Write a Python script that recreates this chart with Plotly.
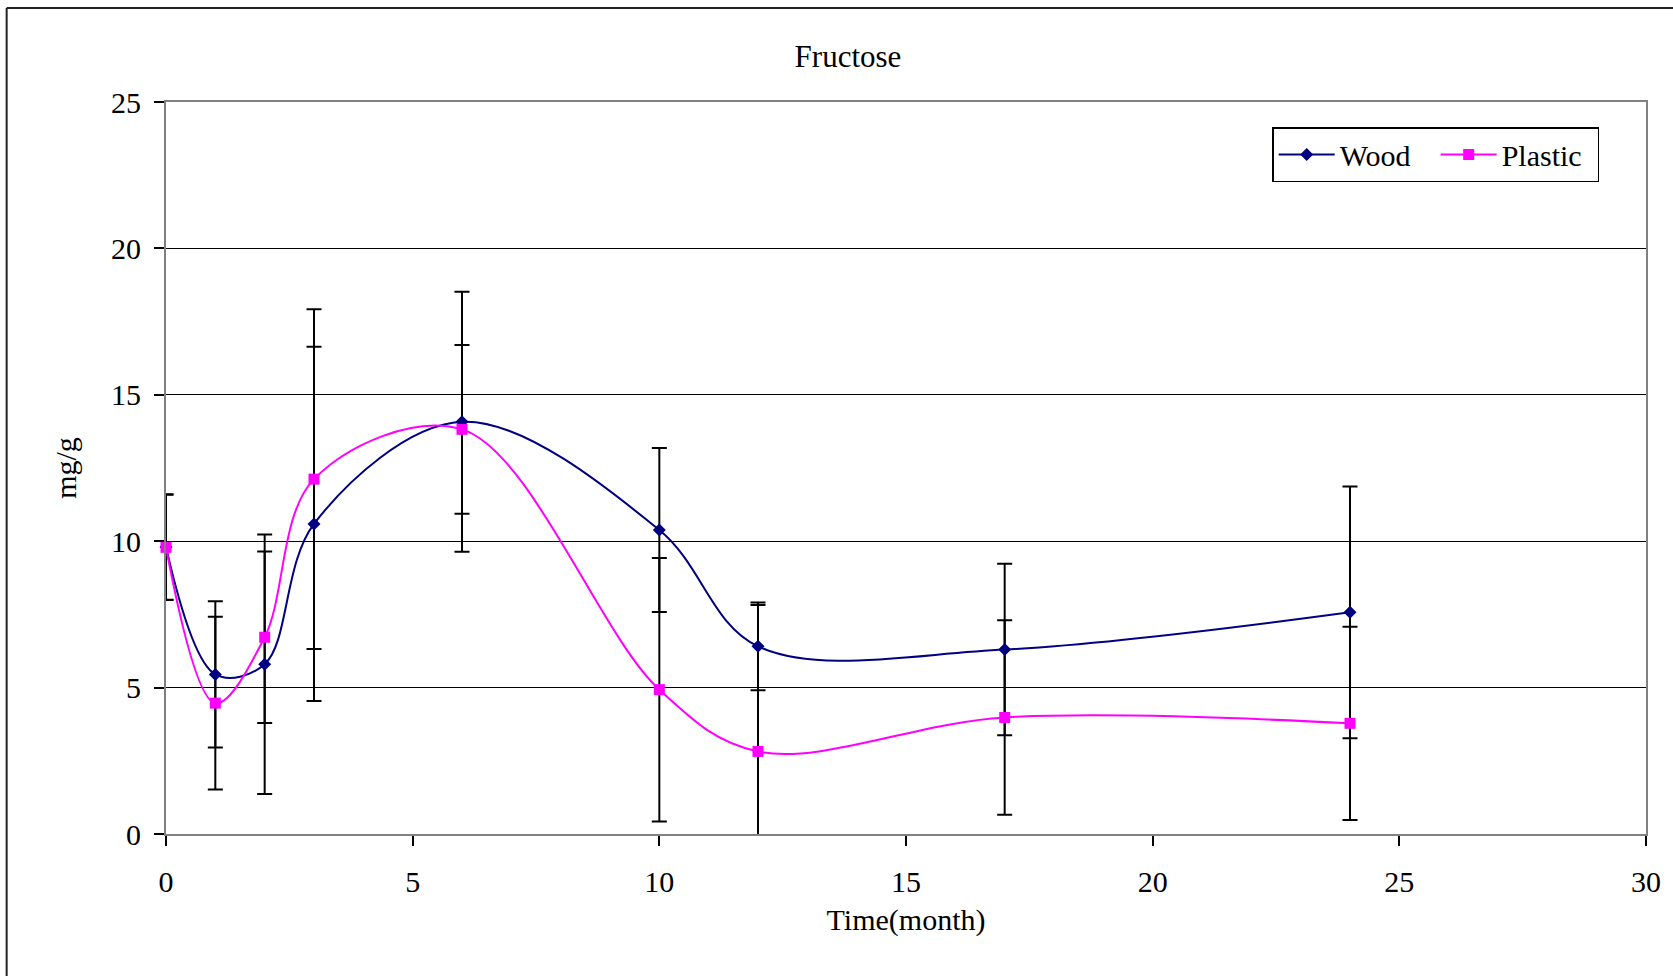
import plotly.graph_objects as go

months = [0, 1, 2, 3, 6, 10, 12, 17, 24]
wood = [9.8, 5.45, 5.8, 10.59, 14.08, 10.38, 6.41, 6.3, 7.57]
wood_err = [1.8, 2.5, 4.43, 6.05, 4.44, 2.8, 1.5, 2.93, 4.3]
plastic = [9.79, 4.47, 6.72, 12.12, 13.82, 4.93, 2.82, 3.98, 3.78]
plastic_err = [1.8, 2.95, 2.93, 5.8, 2.88, 4.5, 5.0, 3.32, 3.3]
x_ticks = [0, 5, 10, 15, 20, 25, 30]
y_ticks = [0, 5, 10, 15, 20, 25]

W, H = 1673, 976
L, R, T, B = 166, 21, 102, 142
PW, PH = W - L - R, H - T - B
FONT = "Liberation Serif, Times New Roman, serif"


def px_x(p):
    return (p - L) / PW


def px_y(p):
    return (H - B - p) / PH


fig = go.Figure()
# Plastic error bars (clipped to the plot area, as in the original)
fig.add_trace(go.Scatter(
    x=months, y=plastic, name="Plastic", mode="markers", showlegend=False,
    hoverinfo="skip", cliponaxis=True,
    marker=dict(size=1, color="rgba(0,0,0,0)"),
    error_y=dict(type="data", array=plastic_err, visible=True,
                 color="black", thickness=2, width=7.5),
))
fig.add_trace(go.Scatter(
    x=months, y=wood, name="Wood", mode="lines+markers", cliponaxis=False,
    line=dict(color="#000080", width=2, shape="spline", smoothing=1.0),
    marker=dict(symbol="diamond", size=10, color="#000080"),
    error_y=dict(type="data", array=wood_err, visible=True,
                 color="black", thickness=2, width=7.5),
))
fig.add_trace(go.Scatter(
    x=months, y=plastic, name="Plastic", mode="lines+markers", cliponaxis=False,
    line=dict(color="#FF00FF", width=2, shape="spline", smoothing=1.0),
    marker=dict(symbol="square", size=11, color="#FF00FF"),
))

# outer chart border (left and top visible)
fig.add_shape(type="line", xref="paper", yref="paper",
              x0=px_x(6), x1=px_x(6), y0=px_y(8), y1=px_y(1000),
              line=dict(color="#222222", width=2))
fig.add_shape(type="line", xref="paper", yref="paper",
              x0=px_x(6), x1=px_x(1700), y0=px_y(8), y1=px_y(8),
              line=dict(color="#222222", width=2))

fig.update_layout(
    width=W, height=H,
    margin=dict(l=L, r=R, t=T, b=B, pad=0),
    paper_bgcolor="white", plot_bgcolor="white",
    font=dict(family=FONT, size=30, color="black"),
    title=dict(text="Fructose", x=848 / W, xref="container", xanchor="center",
               y=1 - 56 / H, yref="container", yanchor="middle",
               font=dict(family=FONT, size=31, color="black")),
    showlegend=True,
    legend=dict(orientation="h", x=px_x(1605), xanchor="right",
                y=px_y(127), yanchor="top",
                itemwidth=56, entrywidth=91, entrywidthmode="pixels",
                bordercolor="black", borderwidth=1.5, bgcolor="white",
                font=dict(family=FONT, size=30, color="black")),
    xaxis=dict(range=[0, 30], tickvals=x_ticks, ticktext=[str(v) for v in x_ticks],
               showgrid=False, zeroline=False,
               showline=True, linecolor="#808080", linewidth=2, mirror=True,
               ticks="outside", ticklen=10, tickcolor="black", tickwidth=1.5,
               ticklabelstandoff=10,
               title=dict(text="Time(month)", standoff=12,
                          font=dict(family=FONT, size=30, color="black"))),
    yaxis=dict(range=[0, 25], tickvals=y_ticks, ticktext=[str(v) for v in y_ticks],
               showgrid=True, gridcolor="black", gridwidth=1,
               zeroline=True, zerolinecolor="black", zerolinewidth=1.5,
               showline=True, linecolor="#808080", linewidth=2, mirror=True,
               ticks="outside", ticklen=10, tickcolor="black", tickwidth=1.5,
               ticklabelstandoff=7,
               title=dict(text="mg/g", standoff=26,
                          font=dict(family=FONT, size=30, color="black"))),
)

fig.write_html("out.html")
